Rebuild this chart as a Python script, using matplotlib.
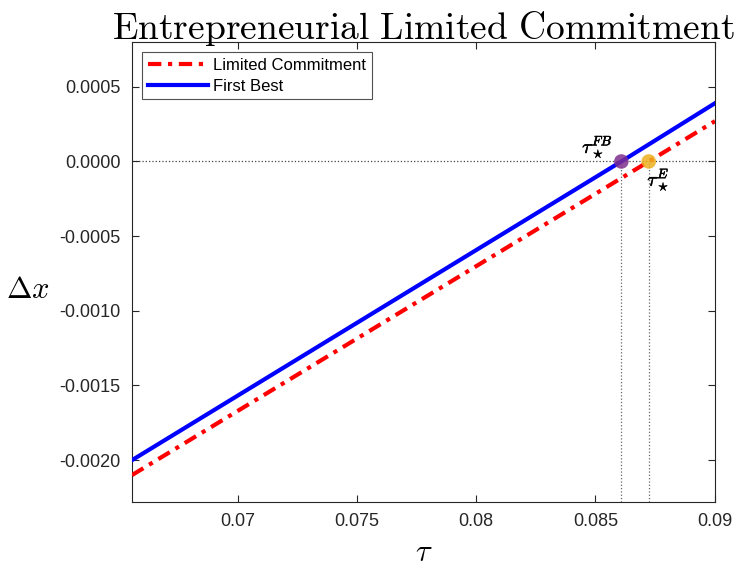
import matplotlib
import matplotlib.pyplot as plt
import matplotlib.patheffects as pe
import numpy as np

matplotlib.use("Agg")

plt.rcParams["mathtext.fontset"] = "cm"
plt.rcParams["font.family"] = ["Liberation Sans", "DejaVu Sans"]

# values
tau_grid = [0.06555, 0.08609, 0.09002]
first_best = [-0.00200, 0.0, 0.00039]
tau_grid_lc = [0.06555, 0.08724, 0.09002]
limited_commitment = [-0.00210, 0.0, 0.00027]
tau_fb = 0.08609
tau_e = 0.08724

x_ticks = [0.07, 0.075, 0.08, 0.085, 0.09]
x_tick_labels = ["0.07", "0.075", "0.08", "0.085", "0.09"]
y_ticks = [-0.0020, -0.0015, -0.0010, -0.0005, 0.0, 0.0005]
y_tick_labels = ["-0.0020", "-0.0015", "-0.0010", "-0.0005", "0.0000", "0.0005"]

fig = plt.figure(figsize=(7.34, 5.72), dpi=100)
ax = fig.add_axes([0.1798, 0.1224, 0.7943, 0.8042])

ax.plot(tau_grid_lc, limited_commitment, color="red", linestyle="-.",
        dashes=(3.2, 1.6, 1.0, 1.6), linewidth=3, label="Limited Commitment", zorder=3)
ax.plot(tau_grid, first_best, color="blue", linewidth=3,
        label="First Best", zorder=3)

ax.axhline(0, color="#444444", linestyle=":", linewidth=0.9, zorder=1)
ax.plot([tau_fb, tau_fb], [-0.00228, 0], color="#666666", linestyle=":", linewidth=0.9, zorder=1)
ax.plot([tau_e, tau_e], [-0.00228, 0], color="#666666", linestyle=":", linewidth=0.9, zorder=1)

ax.scatter([tau_fb], [0], s=110, color="#7E2F8E", alpha=0.85, edgecolor="none", zorder=4)
ax.scatter([tau_e], [0], s=110, color="#EDB120", alpha=0.85, edgecolor="none", zorder=4)

bold = [pe.withStroke(linewidth=0.4, foreground="black")]
ax.annotate(r"$\tau_\star^{FB}$", (tau_fb, 0), xytext=(-6, 1),
            textcoords="offset points", ha="right", va="bottom", fontsize=14,
            path_effects=bold)
ax.annotate(r"$\tau_\star^{E}$", (tau_e, 0), xytext=(-1, -4),
            textcoords="offset points", ha="left", va="top", fontsize=14,
            path_effects=bold)

ax.set_xlim(0.06555, 0.09002)
ax.set_ylim(-0.00228, 0.0008)
ax.set_xticks(x_ticks)
ax.set_xticklabels(x_tick_labels)
ax.set_yticks(y_ticks)
ax.set_yticklabels(y_tick_labels)
ax.tick_params(direction="in", top=True, right=True, length=5, width=0.8,
               labelsize=13, colors="#262626", pad=8)
for spine in ax.spines.values():
    spine.set_color("#262626")
    spine.set_linewidth(0.8)

ax.set_title(r"$\mathrm{Entrepreneurial\ Limited\ Commitment}$", fontsize=27, pad=2)
ax.set_xlabel(r"$\tau$", fontsize=22, labelpad=6)
ax.set_ylabel(r"$\Delta x$", fontsize=22, rotation=0, va="center")
ax.yaxis.set_label_coords(-0.178, 0.46)

leg = ax.legend(loc="upper left", fontsize=12, frameon=True, fancybox=False,
                handlelength=3.6, borderaxespad=0.6, borderpad=0.35,
                labelspacing=0.35, handletextpad=0.3)
leg.get_frame().set_edgecolor("#262626")
leg.get_frame().set_linewidth(0.8)

fig.savefig("out.png", dpi=100)
